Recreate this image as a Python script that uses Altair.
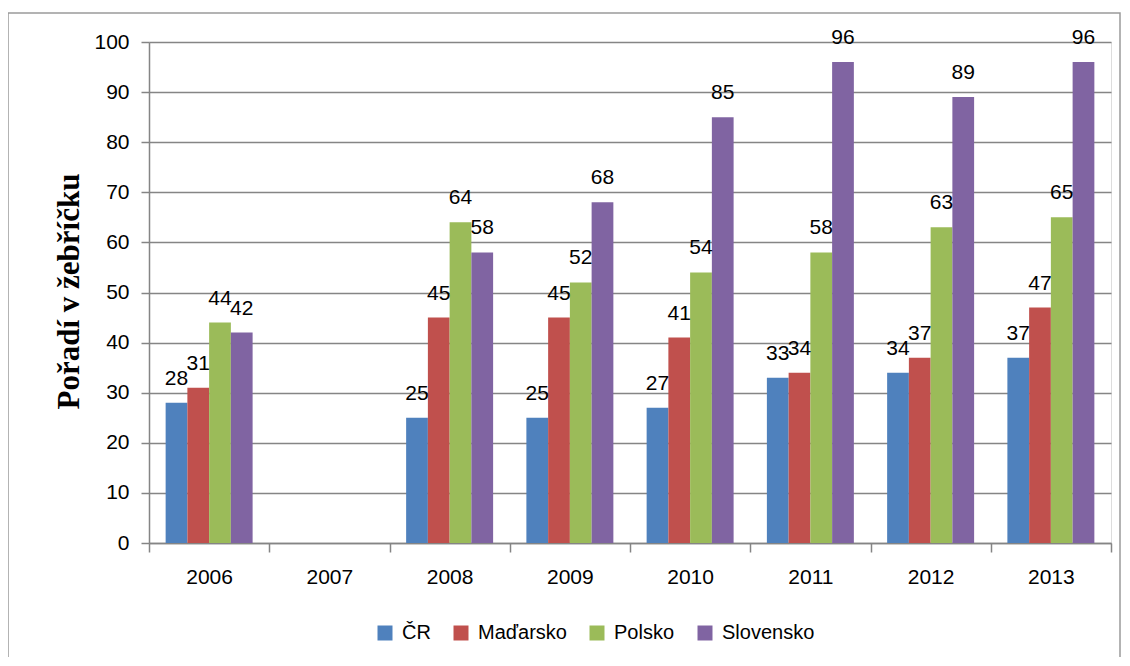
import altair as alt
import pandas as pd

years = ["2006", "2007", "2008", "2009", "2010", "2011", "2012", "2013"]
series = ["ČR", "Maďarsko", "Polsko", "Slovensko"]
cr = [28, None, 25, 25, 27, 33, 34, 37]
madarsko = [31, None, 45, 45, 41, 34, 37, 47]
polsko = [44, None, 64, 52, 54, 58, 63, 65]
slovensko = [42, None, 58, 68, 85, 96, 89, 96]
colors = ["#4F81BD", "#C0504D", "#9BBB59", "#8064A2"]
y_ticks = [0, 10, 20, 30, 40, 50, 60, 70, 80, 90, 100]

rows = []
for name, vals in zip(series, [cr, madarsko, polsko, slovensko]):
    for yr, v in zip(years, vals):
        if v is not None:
            rows.append({"year": yr, "series": name, "value": v})
df = pd.DataFrame(rows)

FONT = "Liberation Sans"
GRID = "#858585"

x_scale = alt.Scale(domain=years, paddingInner=0, paddingOuter=0)
x_enc = alt.X(
    "year:N",
    scale=x_scale,
    axis=alt.Axis(
        title=None, labelAngle=0, labelFont=FONT, labelFontSize=21, labelColor="#000000",
        tickBand="extent", tickSize=9, tickColor=GRID, tickWidth=1.5,
        domainColor=GRID, domainWidth=1.5, labelPadding=14, grid=False,
    ),
)
xoff_enc = alt.XOffset("series:N", scale=alt.Scale(domain=series, paddingInner=0, paddingOuter=0.765))
y_enc = alt.Y(
    "value:Q",
    scale=alt.Scale(domain=[0, 100], nice=False),
    axis=alt.Axis(
        title="Pořadí v žebříčku", values=y_ticks, labelFont=FONT, labelFontSize=21,
        labelColor="#000000", labelPadding=12, tickSize=8, tickColor=GRID, tickWidth=1.5,
        domainColor=GRID, domainWidth=1.5, grid=True, gridColor=GRID, gridWidth=1.5,
        titleFont="Liberation Serif", titleFontWeight="bold", titleFontSize=31,
        titleColor="#000000", titleAngle=270, titleX=-71, titleY=249,
        titleAlign="center", titleBaseline="alphabetic",
    ),
)

bars = alt.Chart(df).mark_bar().encode(
    x=x_enc,
    xOffset=xoff_enc,
    y=y_enc,
    color=alt.Color(
        "series:N",
        scale=alt.Scale(domain=series, range=colors),
        legend=alt.Legend(
            title=None, orient="none", legendX=226, legendY=581, direction="horizontal",
            symbolType="square", symbolSize=225, symbolStrokeWidth=0, labelFont=FONT,
            labelFontSize=20, labelColor="#000000", columnPadding=20, labelOffset=7,
        ),
    ),
)

labels = alt.Chart(df).mark_text(
    baseline="alphabetic", dy=-18, font=FONT, fontSize=21, color="#000000"
).encode(
    x=alt.X("year:N", scale=x_scale),
    xOffset=xoff_enc,
    y=alt.Y("value:Q"),
    text=alt.Text("value:Q"),
)

border = alt.Chart(pd.DataFrame({"a": [0]})).mark_rect(
    fill="transparent", stroke="#9a9a9a", strokeWidth=1.5
).encode(
    x=alt.value(-141), x2=alt.value(971), y=alt.value(-29), y2=alt.value(700)
)

chart = alt.layer(border, bars, labels).properties(
    width=962, height=501,
    autosize=alt.AutoSizeParams(type="none"),
    padding={"left": 141, "top": 34, "right": 10, "bottom": 114},
).configure_view(stroke=None).configure(background="white")

chart.save("out.html", embed_options={"renderer": "svg", "actions": False})
